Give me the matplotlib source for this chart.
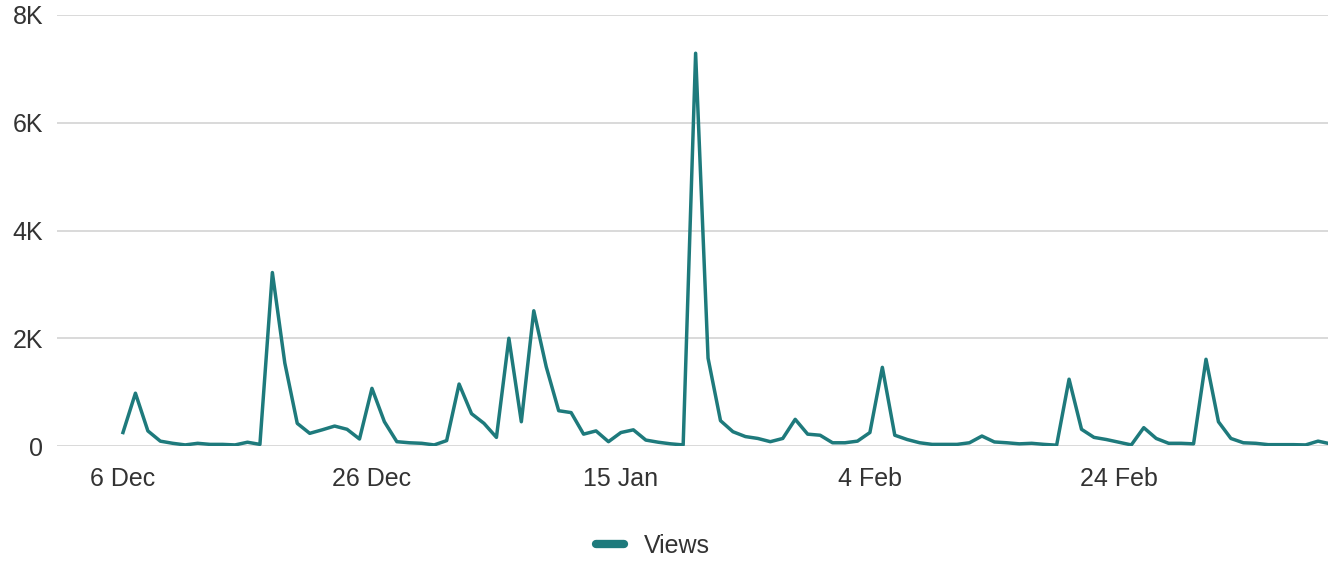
import matplotlib
matplotlib.use("Agg")
import matplotlib.pyplot as plt
import numpy as np
import pandas as pd

plt.rcParams['font.family'] = ['Liberation Sans', 'DejaVu Sans']

# daily views, starting 6 Dec
start_date = "2023-12-06"
views = [
    250, 980, 280, 90, 50, 20, 50, 30, 30, 20,
    70, 30, 3220, 1540, 420, 235, 300, 370, 310, 130,
    1070, 450, 80, 60, 50, 20, 100, 1150, 600, 420,
    160, 2000, 450, 2510, 1470, 655, 620, 220, 280, 80,
    250, 300, 110, 70, 40, 20, 7290, 1630, 470, 265,
    175, 140, 80, 140, 495, 220, 200, 60, 60, 90,
    250, 1460, 200, 120, 60, 30, 30, 30, 60, 185,
    75, 60, 40, 50, 30, 15, 1240, 310, 160, 120,
    70, 20, 340, 140, 50, 50, 40, 1610, 450, 140,
    60, 50, 25, 25, 25, 20, 90, 40,
]
tick_every = 20
y_ticks = [0, 2000, 4000, 6000, 8000]
y_labels = ["0", "2K", "4K", "6K", "8K"]

dates = pd.date_range(start_date, periods=len(views), freq="D")
days = np.arange(len(views))

fig = plt.figure(figsize=(13.28, 5.63), dpi=100)
ax = fig.add_axes([57 / 1328, 117 / 563, 1 - 57 / 1328, 431 / 563])

line_color = "#1e7a7c"
text_color = "#333333"

ax.plot(days, views, color=line_color, lw=2.5, label="Views")

ax.set_ylim(0, 8000)
ax.set_xlim(-5.3, 96.8)
ax.set_yticks(y_ticks)
ax.set_yticklabels(y_labels)
tick_pos = days[::tick_every]
ax.set_xticks(tick_pos)
ax.set_xticklabels([f"{d.day} {d.strftime('%b')}" for d in dates[::tick_every]])

ax.grid(axis="y", color="#d9d9d9", lw=1.4)
ax.set_axisbelow(True)
for s in ax.spines.values():
    s.set_visible(False)
ax.tick_params(axis="both", length=0, labelsize=18, labelcolor=text_color)
ax.tick_params(axis="y", pad=10)
ax.tick_params(axis="x", pad=15)

leg = fig.legend(
    handles=ax.get_lines(), loc="center", bbox_to_anchor=(653 / 1328, 1 - 546 / 563),
    frameon=False, fontsize=18, handlelength=1.15, handletextpad=0.8,
)
for t in leg.get_texts():
    t.set_color(text_color)
for h in leg.get_lines():
    h.set_linewidth(6)
    h.set_solid_capstyle("round")

fig.savefig("out.png", dpi=100, facecolor="white")
